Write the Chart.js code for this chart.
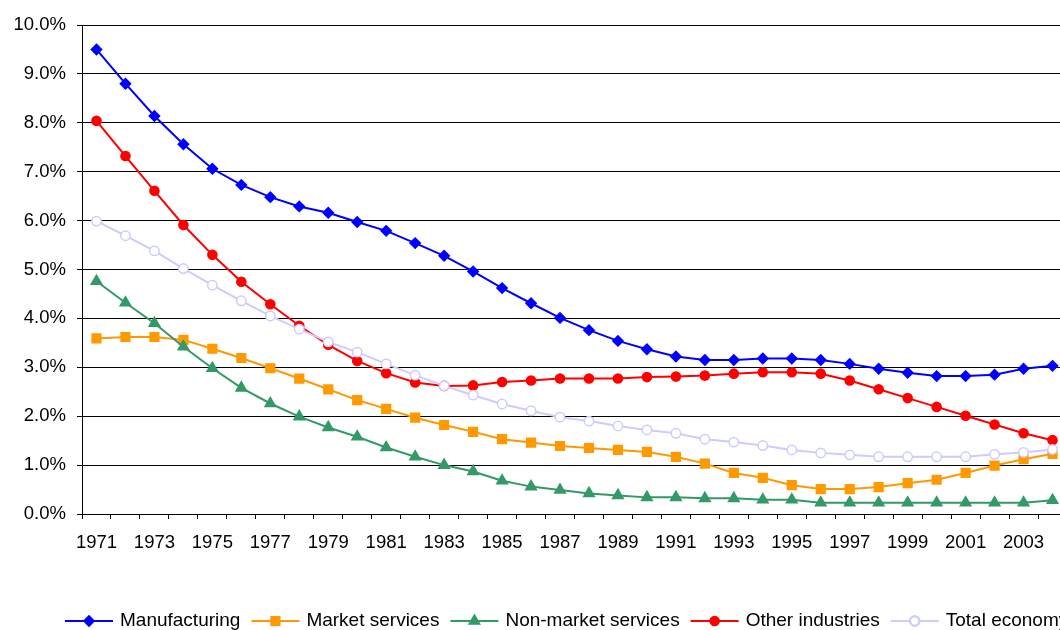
<!DOCTYPE html>
<html>
<head>
<meta charset="utf-8">
<script src="https://cdn.jsdelivr.net/npm/chart.js@4/dist/chart.umd.min.js"></script>
<style>
  html, body { margin: 0; padding: 0; background: #fff; overflow: hidden; }
  #wrap { position: relative; width: 1080px; height: 630px; }
</style>
</head>
<body>
<div id="wrap"><canvas id="c"></canvas></div>
<script>
// Years on the category axis
const years = ['1971','1972','1973','1974','1975','1976','1977','1978','1979','1980',
               '1981','1982','1983','1984','1985','1986','1987','1988','1989','1990',
               '1991','1992','1993','1994','1995','1996','1997','1998','1999','2000',
               '2001','2002','2003','2004'];

// Series values, in percent
const manufacturing = [9.50, 8.80, 8.14, 7.56, 7.06, 6.73, 6.48, 6.29, 6.16, 5.97,
                       5.79, 5.54, 5.28, 4.96, 4.62, 4.31, 4.01, 3.76, 3.54, 3.37,
                       3.22, 3.15, 3.15, 3.18, 3.18, 3.15, 3.07, 2.97, 2.89, 2.82,
                       2.82, 2.85, 2.97, 3.03];
const marketServices = [3.59, 3.62, 3.62, 3.56, 3.38, 3.19, 2.98, 2.77, 2.55, 2.33,
                        2.15, 1.97, 1.82, 1.68, 1.53, 1.46, 1.39, 1.35, 1.31, 1.27,
                        1.17, 1.03, 0.84, 0.74, 0.59, 0.51, 0.51, 0.55, 0.63, 0.70,
                        0.84, 0.99, 1.12, 1.23];
const nonMarketServices = [4.76, 4.32, 3.90, 3.42, 2.98, 2.58, 2.26, 1.99, 1.77, 1.58,
                           1.36, 1.17, 1.00, 0.87, 0.68, 0.56, 0.49, 0.42, 0.38, 0.34,
                           0.34, 0.32, 0.32, 0.29, 0.29, 0.23, 0.23, 0.23, 0.23, 0.23,
                           0.23, 0.23, 0.23, 0.28];
const otherIndustries = [8.04, 7.32, 6.61, 5.91, 5.30, 4.75, 4.29, 3.85, 3.46, 3.13,
                         2.88, 2.69, 2.62, 2.63, 2.70, 2.73, 2.77, 2.77, 2.77, 2.80,
                         2.81, 2.83, 2.87, 2.90, 2.90, 2.87, 2.73, 2.55, 2.37, 2.19,
                         2.01, 1.83, 1.65, 1.51];
const totalEconomy = [5.99, 5.69, 5.38, 5.02, 4.68, 4.36, 4.05, 3.78, 3.52, 3.31,
                      3.07, 2.84, 2.62, 2.43, 2.25, 2.11, 1.98, 1.90, 1.80, 1.72,
                      1.65, 1.53, 1.47, 1.40, 1.31, 1.25, 1.21, 1.17, 1.17, 1.17,
                      1.17, 1.22, 1.26, 1.32];

// Value axis ticks
const yTicks = [0, 1, 2, 3, 4, 5, 6, 7, 8, 9, 10];

const FONT = "'Liberation Sans', Arial, sans-serif";

function series(label, data, color, style, radius, fill, order) {
  return {
    label, data, order,
    borderColor: color,
    backgroundColor: color,
    borderWidth: 2,
    tension: 0,
    pointStyle: style,
    pointRadius: radius,
    pointHoverRadius: radius,
    pointBackgroundColor: fill,
    pointBorderColor: color,
    pointBorderWidth: fill === color ? 0 : 1.5
  };
}

// Excel-style legend: short line with the marker in its middle
const lineLegend = {
  id: 'lineLegend',
  afterDraw(chart) {
    const ctx = chart.ctx;
    const y = 621;
    let x = 65;
    ctx.save();
    ctx.font = '19px ' + FONT;
    ctx.textBaseline = 'middle';
    ctx.textAlign = 'left';
    chart.data.datasets.forEach(ds => {
      ctx.strokeStyle = ds.borderColor;
      ctx.lineWidth = 2;
      ctx.beginPath();
      ctx.moveTo(x, y);
      ctx.lineTo(x + 48, y);
      ctx.stroke();
      ctx.fillStyle = ds.pointBackgroundColor;
      ctx.strokeStyle = ds.pointBorderColor;
      Chart.helpers.drawPoint(ctx, {
        pointStyle: ds.pointStyle,
        radius: ds.pointRadius,
        rotation: 0,
        borderWidth: ds.pointBorderWidth
      }, x + 24, y);
      if (ds.pointBorderWidth) ctx.stroke();
      ctx.fillStyle = '#000';
      ctx.fillText(ds.label, x + 55, y);
      x += 55 + ctx.measureText(ds.label).width + 11;
    });
    ctx.restore();
  }
};

new Chart(document.getElementById('c'), {
  type: 'line',
  data: {
    labels: years,
    datasets: [
      series('Manufacturing', manufacturing, '#0000FF', 'rectRot', 6.2, '#0000FF', 4),
      series('Market services', marketServices, '#FF9900', 'rect', 7.2, '#FF9900', 3),
      series('Non-market services', nonMarketServices, '#339966', 'triangle', 7.6, '#339966', 2),
      series('Other industries', otherIndustries, '#FF0000', 'circle', 5.3, '#FF0000', 1),
      series('Total economy', totalEconomy, '#CCCCFF', 'circle', 4.7, '#FFFFFF', 0)
    ]
  },
  options: {
    responsive: true,
    maintainAspectRatio: false,
    animation: false,
    events: [],
    layout: { padding: { top: 25, right: 13, bottom: 0, left: 0 } },
    plugins: { legend: { display: false }, tooltip: { enabled: false } },
    scales: {
      x: {
        type: 'category',
        offset: true,
        grid: {
          offset: true,
          drawOnChartArea: false,
          drawTicks: true,
          tickLength: 5,
          color: '#000'
        },
        border: { display: true, color: '#000', width: 1 },
        ticks: {
          autoSkip: false,
          maxRotation: 0,
          minRotation: 0,
          padding: 13,
          color: '#000',
          font: { family: FONT, size: 18.5 },
          callback: (v, i) => (i % 2 === 0 ? years[i] : '')
        },
        afterFit: s => { s.height = 116; }
      },
      y: {
        min: 0,
        max: 10,
        afterBuildTicks: s => { s.ticks = yTicks.map(v => ({ value: v })); },
        grid: {
          color: '#000',
          lineWidth: 1,
          drawTicks: true,
          tickLength: 5
        },
        border: { display: true, color: '#000', width: 1 },
        ticks: {
          padding: 11,
          color: '#000',
          font: { family: FONT, size: 18.5 },
          callback: v => v.toFixed(1) + '%'
        },
        afterFit: s => { s.width = 82; }
      }
    }
  },
  plugins: [lineLegend]
});
</script>
</body>
</html>
